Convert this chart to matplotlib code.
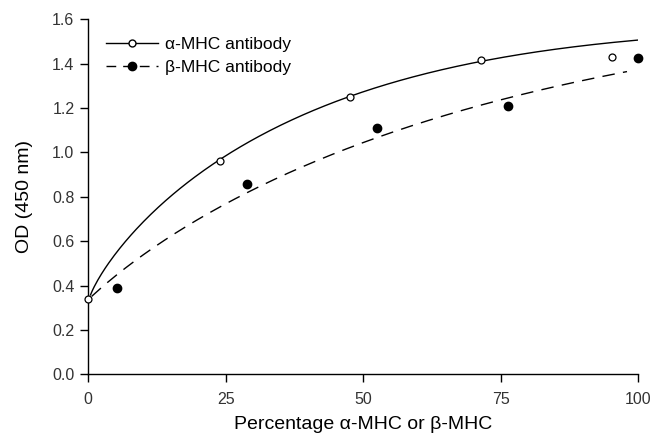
import numpy as np
import matplotlib
matplotlib.use("Agg")
import matplotlib.pyplot as plt
from matplotlib.lines import Line2D

plt.rcParams['font.family'] = ['Liberation Sans', 'DejaVu Sans']

# Measured OD values
alpha_pct = [0, 24, 47.6, 71.4, 95.2]
alpha_od = [0.34, 0.962, 1.248, 1.416, 1.431]
beta_pct = [5.3, 28.9, 52.6, 76.3, 100]
beta_od = [0.39, 0.856, 1.109, 1.21, 1.426]

# Fitted response curves (sampled)
alpha_fit_pct = [0.4, 2, 5.5, 10, 24, 34, 46, 52, 60, 72, 86, 100]
alpha_fit_od = [0.357, 0.44, 0.552, 0.695, 0.962, 1.118, 1.236, 1.288, 1.344, 1.416, 1.468, 1.506]
beta_fit_pct = [0.6, 5.2, 9.7, 14, 18, 22, 27.4, 35, 39.4, 44.3, 47.2, 51.3, 55.6, 61, 68, 76, 84.5, 93, 98]
beta_fit_od = [0.35, 0.456, 0.526, 0.597, 0.672, 0.735, 0.808, 0.886, 0.938, 0.983, 1.02, 1.06,
               1.097, 1.128, 1.193, 1.247, 1.294, 1.336, 1.366]

x_ticks = [0, 25, 50, 75, 100]
y_ticks = [0.0, 0.2, 0.4, 0.6, 0.8, 1.0, 1.2, 1.4, 1.6]


def smooth(xs, ys, deg=4):
    xs = np.asarray(xs, float)
    ys = np.asarray(ys, float)
    coef = np.polyfit(np.sqrt(xs), ys, deg)
    xx = np.linspace(xs.min(), xs.max(), 300)
    return xx, np.polyval(coef, np.sqrt(xx))


fig = plt.figure(figsize=(6.67, 4.34), dpi=100)
ax = fig.add_axes([0.1324, 0.1376, 0.8241, 0.818])

ax.plot(*smooth(alpha_fit_pct, alpha_fit_od), color='black', lw=1.0, zorder=2)
ax.plot(*smooth(beta_fit_pct, beta_fit_od), color='black', lw=1.0,
        dashes=(9, 6), zorder=2)
ax.plot(alpha_pct, alpha_od, 'o', ms=5, mfc='white', mec='black', mew=0.9,
        ls='none', zorder=3, clip_on=False)
ax.plot(beta_pct, beta_od, 'o', ms=6, mfc='black', mec='black',
        ls='none', zorder=3, clip_on=False)

ax.set_xlim(0, 100)
ax.set_ylim(0, 1.6)
ax.set_xticks(x_ticks)
ax.set_xticklabels([str(t) for t in x_ticks])
ax.set_yticks(y_ticks)
ax.set_yticklabels([f"{t:.1f}" for t in y_ticks])
for s in ('top', 'right'):
    ax.spines[s].set_visible(False)
for s in ('left', 'bottom'):
    ax.spines[s].set_linewidth(1.0)
ax.tick_params(axis='both', direction='out', length=6, width=1.0,
               labelsize=11.5, colors='black')
ax.tick_params(axis='y', pad=4)
ax.tick_params(axis='x', pad=7)
for lab in ax.get_xticklabels() + ax.get_yticklabels():
    lab.set_color('#333333')

ax.set_xlabel('Percentage α-MHC or β-MHC', fontsize=14, labelpad=6)
ax.set_ylabel('OD (450 nm)', fontsize=14, labelpad=14)

handles = [
    Line2D([], [], color='black', lw=1.0, marker='o', ms=5, mfc='white', mec='black'),
    Line2D([], [], color='black', lw=1.0, dashes=(7, 5), marker='o', ms=6, mfc='black'),
]
ax.legend(handles, ['α-MHC antibody', 'β-MHC antibody'],
          loc='upper left', bbox_to_anchor=(0.01, 0.985), frameon=False,
          fontsize=12.5, handlelength=3.0, handletextpad=0.4, labelspacing=0.45,
          borderaxespad=0.3)

fig.savefig('out.png', dpi=100)
